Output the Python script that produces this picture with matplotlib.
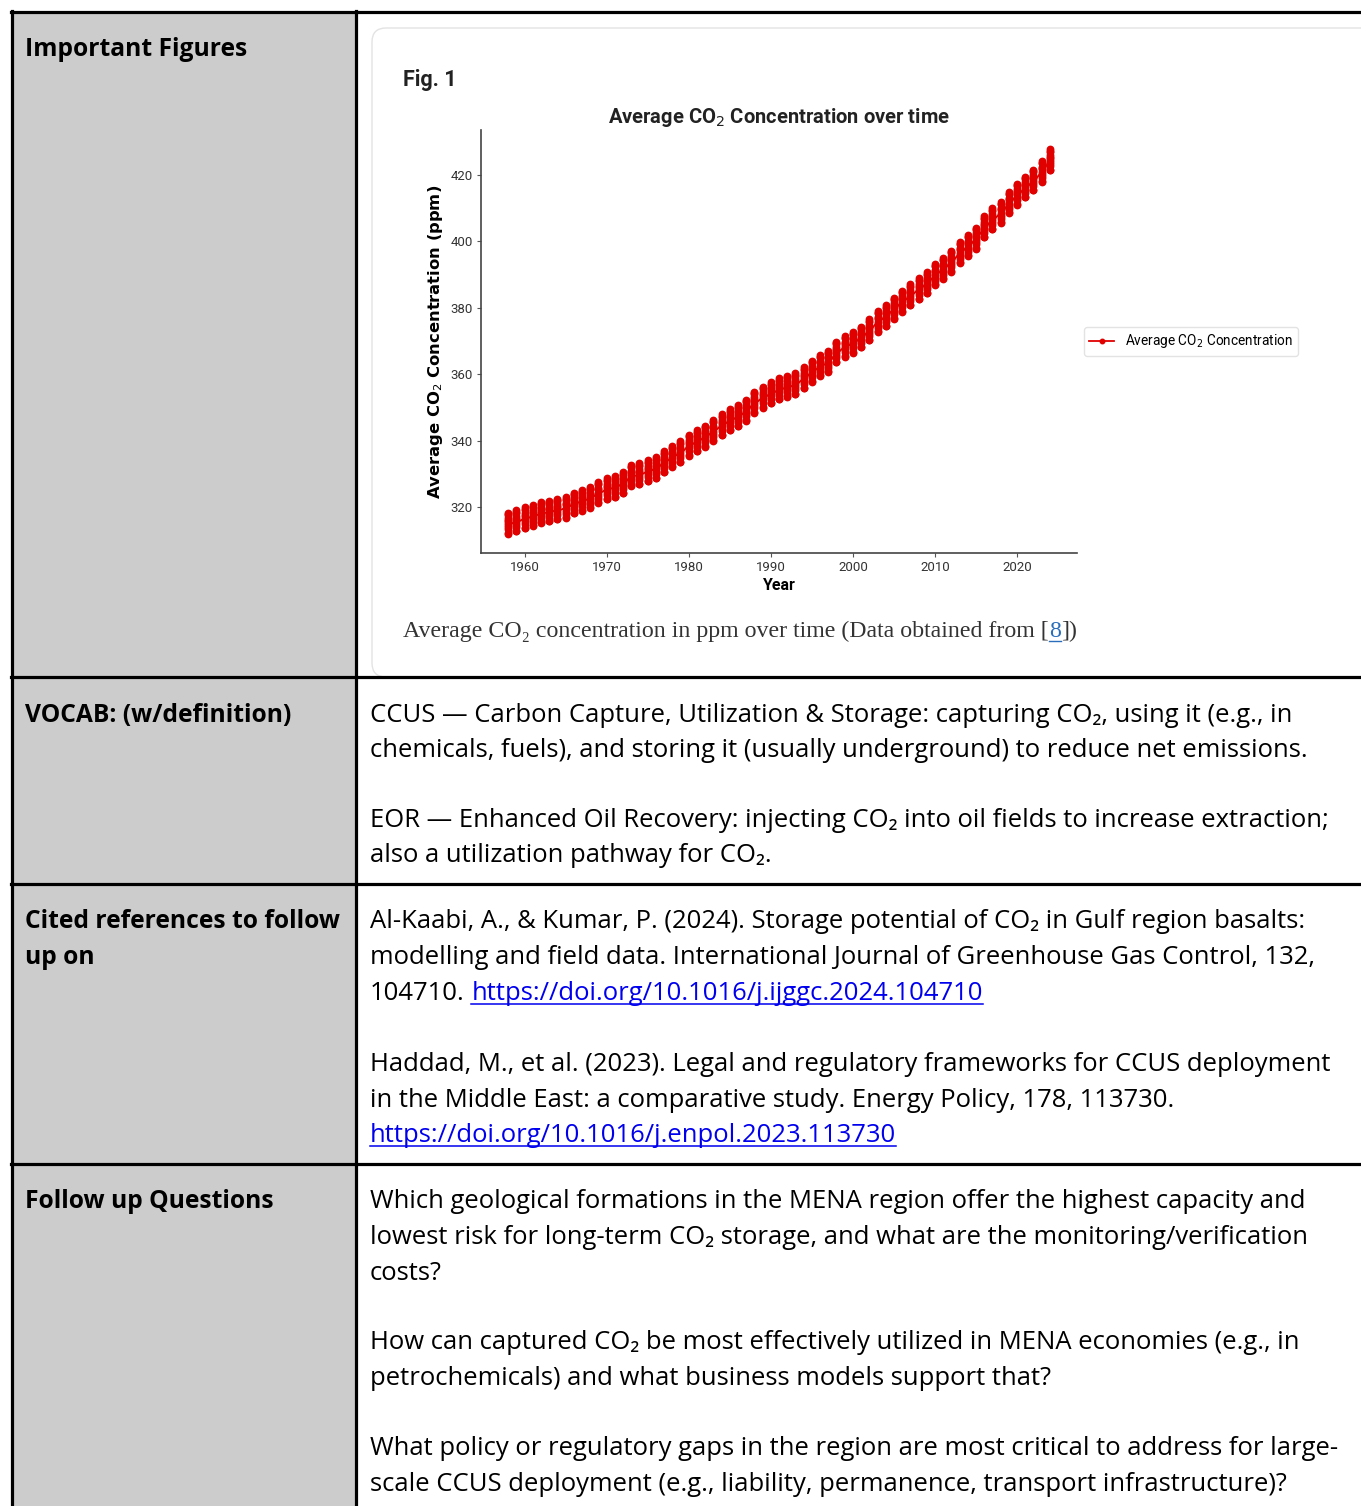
import matplotlib
matplotlib.use("Agg")
import matplotlib.pyplot as plt
from matplotlib.patches import Rectangle, FancyBboxPatch

W, H = 1361, 1506

# Mauna Loa style record: annual means and the typical monthly swing around them
years = list(range(1958, 2025))
annual_mean = [315.3, 316.0, 316.9, 317.6, 318.5, 319.0, 319.6, 320.0, 321.4, 322.2,
               323.1, 324.6, 325.7, 326.3, 327.5, 329.7, 330.2, 331.1, 332.0, 333.8,
               335.4, 336.8, 338.8, 340.1, 341.5, 343.2, 344.9, 346.4, 347.6, 349.3,
               351.7, 353.2, 354.5, 355.7, 356.5, 357.2, 359.0, 361.0, 362.7, 363.9,
               366.8, 368.5, 369.7, 371.3, 373.5, 376.0, 377.7, 380.0, 382.1, 384.0,
               385.8, 387.6, 390.1, 391.9, 394.1, 396.7, 398.8, 401.0, 404.4, 406.8,
               408.7, 411.7, 414.2, 416.4, 418.5, 421.1, 424.6]
month_offset = [-0.1, 0.6, 1.4, 2.6, 3.1, 2.4, 0.9, -1.3, -3.0, -3.2, -1.9, -0.7]

headers = [
    (["Important Figures"], 56),
    (["VOCAB: (w/definition)"], 722),
    (["Cited references to follow", "up on"], 928),
    (["Follow up Questions"], 1208),
]

LINK = "#0000ee"
body = [
    (722, [("CCUS \u2014 Carbon Capture, Utilization & Storage: capturing CO\u2082, using it (e.g., in", None)]),
    (757, [("chemicals, fuels), and storing it (usually underground) to reduce net emissions.", None)]),
    (827, [("EOR \u2014 Enhanced Oil Recovery: injecting CO\u2082 into oil fields to increase extraction;", None)]),
    (862, [("also a utilization pathway for CO\u2082.", None)]),
    (928, [("Al-Kaabi, A., & Kumar, P. (2024). Storage potential of CO\u2082 in Gulf region basalts:", None)]),
    (964, [("modelling and field data. International Journal of Greenhouse Gas Control, 132,", None)]),
    (1000, [("104710.", None), ("https://doi.org/10.1016/j.ijggc.2024.104710", LINK)]),
    (1071, [("Haddad, M., et al. (2023). Legal and regulatory frameworks for CCUS deployment", None)]),
    (1107, [("in the Middle East: a comparative study. Energy Policy, 178, 113730.", None)]),
    (1142, [("https://doi.org/10.1016/j.enpol.2023.113730", LINK)]),
    (1208, [("Which geological formations in the MENA region offer the highest capacity and", None)]),
    (1244, [("lowest risk for long-term CO\u2082 storage, and what are the monitoring/verification", None)]),
    (1280, [("costs?", None)]),
    (1349, [("How can captured CO\u2082 be most effectively utilized in MENA economies (e.g., in", None)]),
    (1385, [("petrochemicals) and what business models support that?", None)]),
    (1455, [("What policy or regulatory gaps in the region are most critical to address for large-", None)]),
    (1491, [("scale CCUS deployment (e.g., liability, permanence, transport infrastructure)?", None)]),
]

fig = plt.figure(figsize=(W / 100, H / 100), dpi=100)
fig.patch.set_facecolor("white")
page = fig.add_axes([0, 0, 1, 1])
page.set_xlim(0, W)
page.set_ylim(H, 0)
page.axis("off")
renderer = fig.canvas.get_renderer()

# table
page.add_patch(Rectangle((13, 13), 342, H, facecolor="#cccccc", edgecolor="none"))
page.add_patch(FancyBboxPatch((372, 28), 1010, 649, boxstyle="round,pad=0,rounding_size=14",
                              facecolor="white", edgecolor="#e3e3e3", lw=1))
lw = 2.3
page.plot([12, 12], [11, H], color="black", lw=lw)
page.plot([356, 356], [11, H], color="black", lw=lw)
page.plot([11, W], [12, 12], color="black", lw=lw)
for y in [677, 884, 1164]:
    page.plot([11, W], [y, y], color="black", lw=lw)

body_font = dict(family=["Open Sans", "DejaVu Sans"], fontsize=18.45)
head_font = dict(family=["Open Sans", "DejaVu Sans"], fontsize=17.7, fontweight="bold")

for lines, y0 in headers:
    for i, s in enumerate(lines):
        page.text(25, y0 + i * 36, s, va="baseline", **head_font)

space = (page.text(0, 0, "a a", **body_font).get_window_extent(renderer).width
         - page.text(0, 0, "aa", **body_font).get_window_extent(renderer).width)
for t in page.texts[-2:]:
    t.remove()

for y, parts in body:
    x = 370
    for s, col in parts:
        t = page.text(x, y, s, va="baseline", color=col or "black", **body_font)
        w = t.get_window_extent(renderer).width
        if col:
            page.plot([x, x + w], [y + 4, y + 4], color=col, lw=1.1)
        x += w + space

# figure panel
page.text(403, 86, "Fig. 1", va="baseline", fontweight="bold",
          family=["Roboto", "DejaVu Sans"], fontsize=15.5, color="#222222")

cap_font = dict(family=["Liberation Serif", "DejaVu Serif"], fontsize=17.2)
x = 403
for s, col in [("Average CO\u2082 concentration in ppm over time (Data obtained from [", None),
               ("8", "#2a6ebb"), ("])", None)]:
    t = page.text(x, 637, s, va="baseline", color=col or "#333333", **cap_font)
    w = t.get_window_extent(renderer).width
    if col:
        page.plot([x, x + w], [641, 641], color=col, lw=1)
    x += w

# chart
ax = fig.add_axes([481 / W, 1 - 553 / H, 596 / W, 423 / H])
xs, ys = [], []
for yr, m in zip(years, annual_mean):
    for off in month_offset:
        xs.append(yr)
        ys.append(m + off)
ax.plot(xs, ys, "-o", color="#e00000", lw=1.3, markersize=4.6,
        label="Average CO$_2$ Concentration")

chart_font = ["Roboto", "DejaVu Sans"]
ax.set_title("Average CO$_2$ Concentration over time", fontweight="bold",
             family=chart_font, fontsize=14.5, pad=5, color="#222222")
ax.set_xlabel("Year", fontweight="bold", family=chart_font, fontsize=11.5, labelpad=3)
ax.set_ylabel("Average CO$_2$ Concentration (ppm)", fontweight="bold",
              family=["DejaVu Sans"], fontsize=11.8, labelpad=4)
ax.set_xticks([1960, 1970, 1980, 1990, 2000, 2010, 2020])
ax.set_yticks([320, 340, 360, 380, 400, 420])
for lab in ax.get_xticklabels() + ax.get_yticklabels():
    lab.set_family(chart_font)
    lab.set_fontsize(9.5)
    lab.set_color("#333333")
ax.tick_params(length=3, width=0.8, color="#555555", pad=3)
for side in ["top", "right"]:
    ax.spines[side].set_visible(False)
for side in ["left", "bottom"]:
    ax.spines[side].set_color("#444444")
    ax.spines[side].set_linewidth(1.2)

leg = ax.legend(loc="center left", bbox_to_anchor=(1.0, 0.5), frameon=True,
                prop={"family": chart_font, "size": 9.8}, markerscale=0.7,
                fancybox=True, edgecolor="#dddddd", handlelength=1.8)

fig.savefig("out.png", dpi=100)
